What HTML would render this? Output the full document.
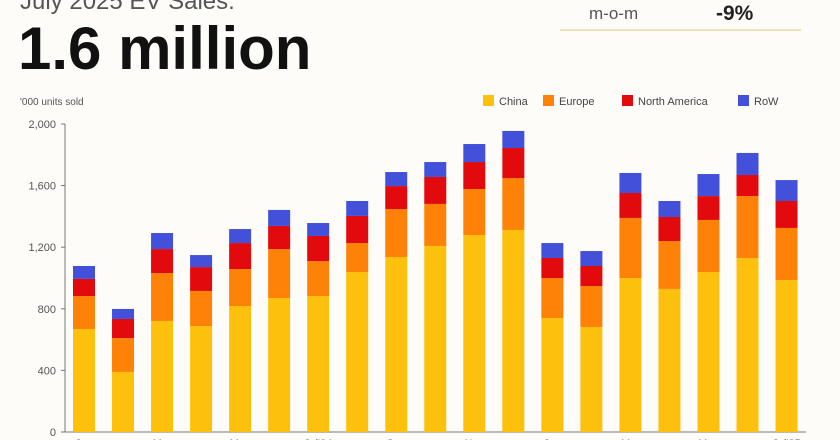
<!DOCTYPE html>
<html><head><meta charset="utf-8"><style>
body{margin:0;background:#fdfcf9;font-family:"Liberation Sans",sans-serif;}
#wrap{position:relative;width:840px;height:440px;overflow:hidden;background:#fdfcf9;}
.t{position:absolute;white-space:nowrap;}
</style></head><body>
<div id="wrap">
<div class="t" style="left:20px;top:-12px;font-size:24px;color:#555;">July 2025 EV Sales:</div>
<div class="t" style="left:18px;top:14px;font-size:60px;font-weight:bold;color:#111;letter-spacing:0px;">1.6 million</div>
<div class="t" style="left:589px;top:4px;font-size:17px;color:#555;">m-o-m</div>
<div class="t" style="left:716px;top:2px;font-size:21px;font-weight:bold;color:#222;">-9%</div>
<div style="position:absolute;left:560px;top:29px;width:241px;height:2px;background:#ece3b8;"></div>
<svg id="svg" width="840" height="440" style="position:absolute;left:0;top:0"></svg>
</div>
<script>
const categories=["Jan","Feb","Mar","Apr","May","Jun","Jul'24","Aug","Sep","Oct","Nov","Dec","Jan","Feb","Mar","Apr","May","Jun","Jul'25"];
const tickLabels=["Jan","","Mar","","May","","Jul'24","","Sep","","Nov","","Jan","","Mar","","May","","Jul'25"];
const china=[669,390,721,688,818,870,883,1039,1136,1208,1279,1312,740,682,1000,929,1039,1130,987];
const europe=[214,220,311,228,240,318,227,188,312,273,299,337,260,266,390,311,338,402,338];
const northAmerica=[111,124,156,155,169,150,163,176,149,175,175,195,130,130,162,156,155,137,175];
const row=[84,65,104,78,91,104,84,97,91,97,117,111,97,97,130,104,143,143,136];
const yTicks=[0,400,800,1200,1600,2000];
const seriesNames=["China","Europe","North America","RoW"];
const colors=["#fdc00d","#fd8207","#e30a0e","#4350da"];
const NS="http://www.w3.org/2000/svg";
const svg=document.getElementById('svg');
const y0=432,y1=124,vmax=2000;
function yS(v){return y0-(v/vmax)*(y0-y1);}
function xS(i){return 84+i*39.03;}
function mk(tag,attrs){const e=document.createElementNS(NS,tag);for(const k in attrs)e.setAttribute(k,attrs[k]);svg.appendChild(e);return e;}
yTicks.forEach(v=>{
 const t=mk('text',{x:56,y:yS(v)+4,'text-anchor':'end','font-size':11,fill:'#555'});
 t.textContent=v.toLocaleString('en-US');
 
 
 const l=mk('line',{x1:61,x2:65,y1:yS(v),y2:yS(v),stroke:'#777'});
 
 
});
const ax=mk('line',{x1:65,x2:65,y1:y1,y2:y0,stroke:'#777','stroke-width':1});


const xa=mk('line',{x1:65,x2:806,y1:y0,y2:y0,stroke:'#777','stroke-width':1});


const series=[china,europe,northAmerica,row];
categories.forEach((c,i)=>{
 let base=0;
 series.forEach((s,k)=>{
  const top=base+s[i];
  const r=mk('rect',{x:xS(i)-11,y:yS(top),width:22,height:yS(base)-yS(top),fill:colors[k]});
  
  
  base=top;
 });
 if(tickLabels[i]){
  const t=mk('text',{x:xS(i),y:447,'text-anchor':'middle','font-size':11,fill:'#555'});
  t.textContent=tickLabels[i];
  
  
 }
});
const yt=mk('text',{x:20,y:105,'font-size':10,fill:'#555'});
yt.textContent="'000 units sold";


const lx=[483,543,622,738];
seriesNames.forEach((n,k)=>{
 const r=mk('rect',{x:lx[k],y:95,width:11,height:11,fill:colors[k]});
 
 
 const t=mk('text',{x:lx[k]+16,y:105,'font-size':11,fill:'#444'});
 t.textContent=n;
 
 
});
</script>
</body></html>
